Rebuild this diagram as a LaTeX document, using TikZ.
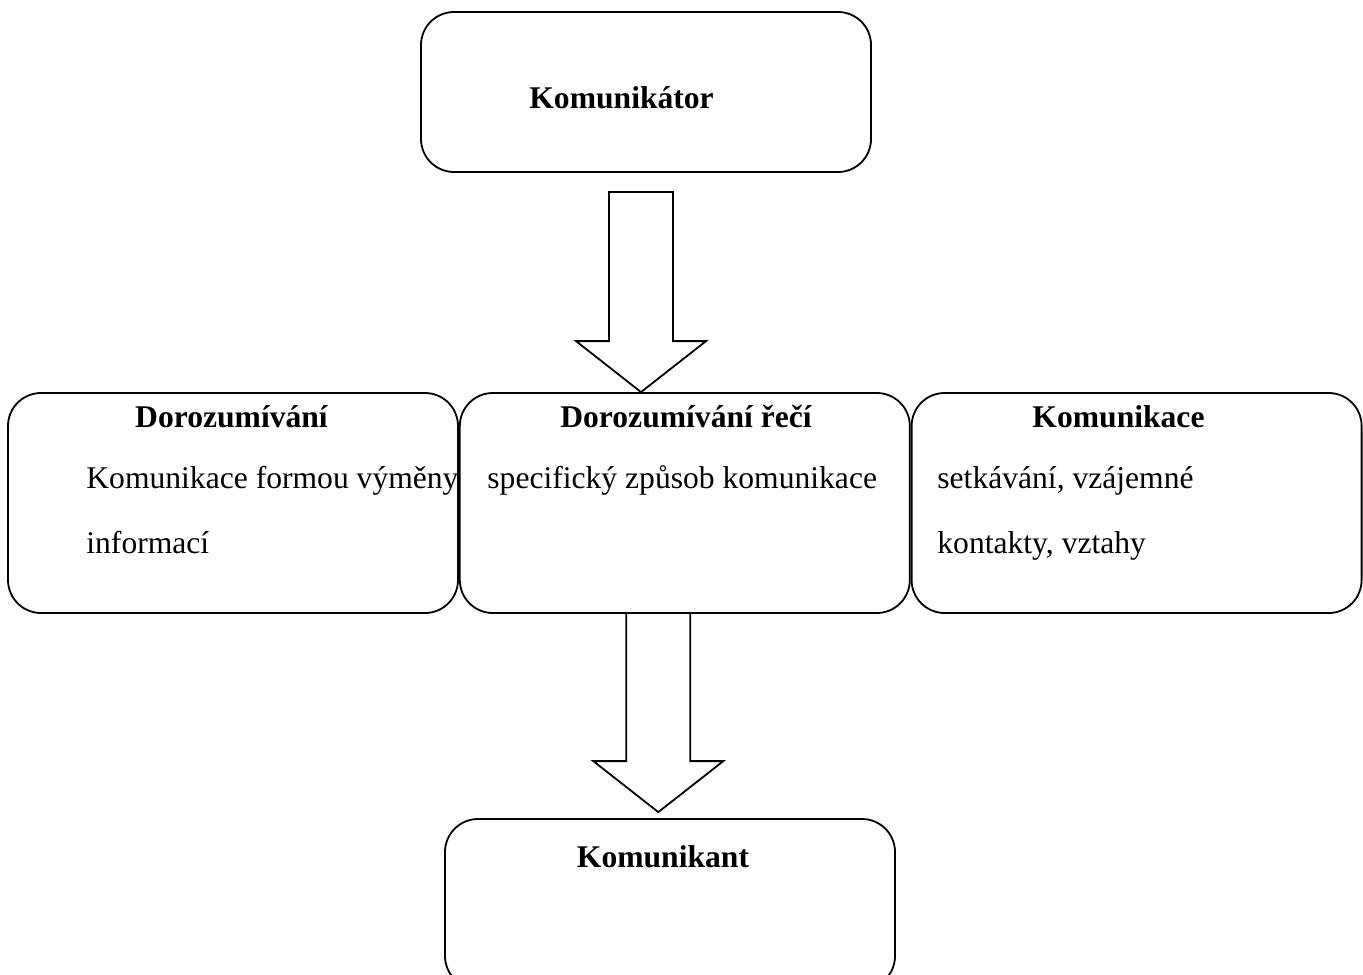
\documentclass[tikz,border=0pt]{standalone}
\usepackage{fontspec}
\setmainfont{Liberation Serif}
\usetikzlibrary{positioning,calc}
\tikzset{
    box/.style={draw, rounded corners=16.5pt, line width=0.9pt, minimum width=225pt, minimum height=110pt, inner sep=0pt},
    head/.style={anchor=base, inner sep=0pt, font=\fontsize{15.8}{19}\selectfont\bfseries},
    body/.style={anchor=base west, inner sep=0pt, font=\fontsize{15.8}{19}\selectfont},
    blockarrow/.style={line width=0.9pt, line join=miter, to path={
        let \p1=(\tikztostart), \p2=(\tikztotarget) in
        (\x1-16pt,\y1) -- (\x1+16pt,\y1) -- (\x1+16pt,\y2+25.5pt) -- (\x1+32.5pt,\y2+25.5pt)
        -- (\x1,\y2) -- (\x1-32.5pt,\y2+25.5pt) -- (\x1-16pt,\y2+25.5pt) -- cycle}}
}

\begin{document}
\begin{tikzpicture}[x=0.5pt, y=-0.5pt]
    \useasboundingbox (0,0) rectangle (1363,974);
    % boxes
    \node[box, minimum height=80pt] (kor) at (646,92) {};
    \node[box] (dor) at (233,503) {};
    \node[box, right=0pt of dor] (rec) {};
    \node[box, right=0pt of rec] (kom) {};
    \node[box, minimum height=85pt] (kant) at (670,904) {};
    % texts
    \node[head, anchor=base west] (korT) at (529,109) {Komunikátor};
    \node[head] (dorT) at (231.5,427) {Dorozumívání};
    \node[body] (dorA) at (86,488) {Komunikace formou výměny};
    \node[body] (dorB) at (86,553) {informací};
    \node[head] (recT) at (686,427) {Dorozumívání řečí};
    \node[body] (recA) at (487,488) {specifický způsob komunikace};
    \node[head] (komT) at (1118.5,427) {Komunikace};
    \node[body] (komA) at (937,488) {setkávání, vzájemné};
    \node[body] (komB) at (937,553) {kontakty, vztahy};
    \node[head] (kantT) at (663,867) {Komunikant};
    % arrows
    \coordinate (a1) at ($(kor.south)+(-5,19)$);
    \coordinate (a2) at ($(rec.south)+(-26.5,-1)$);
    \draw[blockarrow] (a1) to (a1 |- rec.north);
    \draw[blockarrow] (a2) to ($(a2 |- kant.north)+(0,-6)$);
\end{tikzpicture}
\end{document}
